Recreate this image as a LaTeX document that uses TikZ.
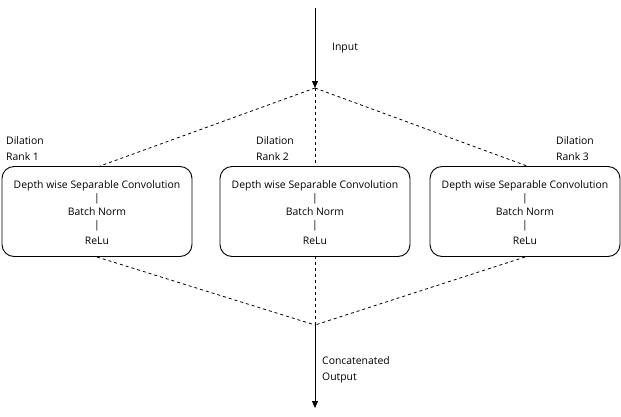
\documentclass[tikz,border=0pt]{standalone}
\usepackage{fontspec}
\setmainfont{Open Sans}
\usetikzlibrary{arrows.meta}
\begin{document}
\begin{tikzpicture}[x=1pt,y=-1pt,
  font=\fontsize{10.4}{12}\selectfont,
  blockbox/.style={draw, line width=0.9pt, rounded corners=12pt, fill=white, minimum width=190pt, minimum height=90pt, inner sep=0pt},
  dashline/.style={draw, line width=0.8pt, dash pattern=on 3pt off 3pt},
  arrowline/.style={draw, line width=0.9pt, -{Triangle[length=7pt,width=6pt]}},
  lbl/.style={anchor=west, align=left, inner sep=0pt, font=\fontsize{10.4}{16}\selectfont}
]
\useasboundingbox (0,0) rectangle (621,416);
\coordinate (top) at (315,88);
\coordinate (bot) at (315,325);
\coordinate (start) at (315,8);
\coordinate (end) at (315,408);
\coordinate (t1) at (100,166);
\coordinate (t3) at (527,166);
\coordinate (b1) at (97,257);
\coordinate (b3) at (525,257);
% dashed connectors
\draw[dashline] (top) -- (t1);
\draw[dashline] (top) -- (t3);
\draw[dashline] (top) -- (bot);
\draw[dashline] (b1) -- (bot);
\draw[dashline] (b3) -- (bot);
% arrows
\draw[arrowline] (start) -- (top);
\draw[arrowline] (bot) -- (end);
% boxes
\node[blockbox] (box1) at (97,211.5) {};
\node[blockbox] (box2) at (315,211.5) {};
\node[blockbox] (box3) at (525,211.5) {};
\foreach \b in {box1,box2,box3}{
  \node at ([yshift=26pt]\b.center) {Depth wise Separable Convolution};
  \node at ([yshift=13pt]\b.center) {|};
  \node at ([yshift=0pt]\b.center) {Batch Norm};
  \node at ([yshift=-14pt]\b.center) {|};
  \node at ([yshift=-29pt]\b.center) {ReLu};
}
% labels
\node[lbl] (inp) at (332,48.5) {Input};
\node[lbl] (d1) at (6,149) {Dilation\\Rank 1};
\node[lbl] (d2) at (256,149) {Dilation\\Rank 2};
\node[lbl] (d3) at (556,149) {Dilation\\Rank 3};
\node[lbl] (co) at (322,369.5) {Concatenated\\Output};
\end{tikzpicture}
\end{document}
